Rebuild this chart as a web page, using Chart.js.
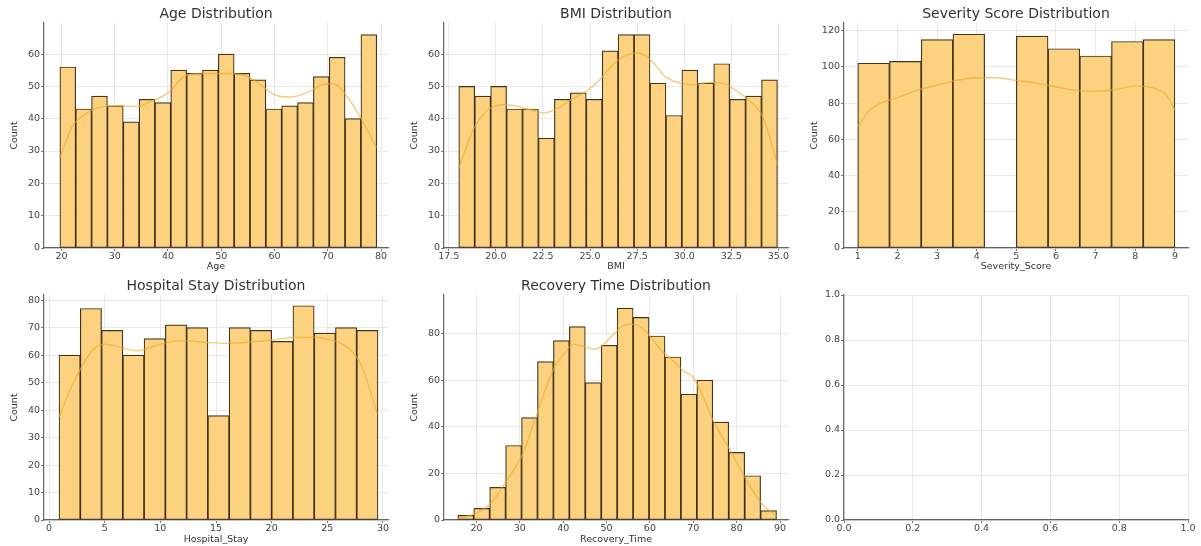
<!DOCTYPE html>
<html>
<head>
<meta charset="utf-8">
<script src="https://cdn.jsdelivr.net/npm/chart.js@4.4.1/dist/chart.umd.min.js"></script>
<style>
  html, body { margin: 0; padding: 0; background: #fff; }
  #fig { position: relative; width: 1201px; height: 546px; }
  #fig canvas { position: absolute; }
</style>
</head>
<body>
<div id="fig">
  <canvas id="age" width="400" height="273" style="left:0;top:0"></canvas>
  <canvas id="bmi" width="400" height="273" style="left:400px;top:0"></canvas>
  <canvas id="sev" width="401" height="273" style="left:800px;top:0"></canvas>
  <canvas id="stay" width="400" height="273" style="left:0;top:273px"></canvas>
  <canvas id="rec" width="400" height="273" style="left:400px;top:273px"></canvas>
  <canvas id="empty" width="401" height="273" style="left:800px;top:273px"></canvas>
</div>
<script>
// ---- histogram counts ----
const ageCounts = [56, 43, 47, 44, 39, 46, 45, 55, 54, 55, 60, 54, 52, 43, 44, 45, 53, 59, 40, 66];
const ageBinStart = 19.7, ageBinWidth = 2.975;
const ageKdeX = [19.7, 22, 25, 28, 31, 34, 37, 40, 43, 46, 50, 54, 57, 60, 63, 66, 69, 71, 74, 76, 79.2];
const ageKdeY = [28, 37.5, 42, 43.8, 44, 43.8, 45.5, 48, 53, 54, 54, 53.6, 51, 47.4, 46.7, 48, 50.5, 50.8, 46, 40.7, 31];

const bmiCounts = [50, 47, 50, 43, 43, 34, 46, 48, 46, 61, 66, 66, 51, 41, 55, 51, 57, 46, 47, 52];
const bmiBinStart = 18.03, bmiBinWidth = 0.846;
const bmiKdeX = [18.03, 18.8, 19.5, 20.3, 21, 21.8, 22.6, 23.3, 24, 24.8, 25.5, 26.2, 27, 27.6, 28.3, 29, 29.8, 30.5, 31.3, 32, 32.8, 33.5, 34.2, 34.95];
const bmiKdeY = [24.7, 36.6, 42.3, 44.3, 44, 42.8, 41.8, 43.3, 45.9, 48.5, 52, 56.7, 59.8, 60.3, 57.7, 53, 51, 50.5, 51.2, 51, 48.5, 45.4, 40.2, 25.8];

const sevCounts = [102, 103, 115, 118, 0, 117, 110, 106, 114, 115];
const sevBinStart = 1, sevBinWidth = 0.8;
const sevKdeX = [1, 1.25, 1.5, 2, 2.5, 3, 3.5, 4, 4.5, 5, 5.5, 6, 6.5, 7, 7.5, 8, 8.5, 8.8, 9];
const sevKdeY = [67, 75, 79, 83, 87, 90, 92.5, 94, 94, 92.5, 91, 89, 87, 86.5, 87.5, 89.5, 88, 84, 76];

const stayCounts = [60, 77, 69, 60, 66, 71, 70, 38, 70, 69, 65, 78, 68, 70, 69];
const stayBinStart = 0.9, stayBinWidth = 1.91;
const stayKdeX = [0.9, 2, 3, 4, 5, 6, 7, 8, 9, 10, 12, 14, 16, 18, 20, 22, 24, 25, 26, 27, 28, 29.5];
const stayKdeY = [37.5, 48.3, 56.2, 62.2, 64, 63.4, 62.2, 61.6, 62.6, 64, 65.3, 64.7, 64.3, 64.7, 65.5, 66.5, 66.5, 65.9, 64.7, 62.2, 56.8, 38.7];

const recCounts = [2, 5, 14, 32, 44, 68, 77, 83, 59, 75, 91, 87, 79, 70, 54, 60, 42, 29, 19, 4];
const recBinStart = 15.7, recBinWidth = 3.675;
const recKdeX = [15.7, 20, 23.2, 27, 30.7, 34.4, 36.3, 38, 40.1, 42.4, 45.1, 47, 48.9, 51.6, 54.7, 56.6, 59.3, 62.4, 65.4, 67.7, 70, 72, 74.6, 78.5, 82.3, 85.8, 89.2];
const recKdeY = [0.7, 3, 7, 17, 28.5, 48, 58, 65.5, 71, 75.4, 74.3, 73.3, 74.7, 79.7, 84, 84, 80.4, 73.3, 68.3, 64, 61.2, 54, 42.7, 30, 17, 7, 1.7];

// ---- tick labels ----
const ageTicks = [20, 30, 40, 50, 60, 70, 80];
const bmiTicks = [17.5, 20, 22.5, 25, 27.5, 30, 32.5, 35];
const sevTicks = [1, 2, 3, 4, 5, 6, 7, 8, 9];
const stayTicks = [0, 5, 10, 15, 20, 25, 30];
const recTicks = [20, 30, 40, 50, 60, 70, 80, 90];
const count60Ticks = [0, 10, 20, 30, 40, 50, 60];
const count120Ticks = [0, 20, 40, 60, 80, 100, 120];
const count80Ticks = [0, 10, 20, 30, 40, 50, 60, 70, 80];
const count80by20Ticks = [0, 20, 40, 60, 80];
const unitTicks = [0, 0.2, 0.4, 0.6, 0.8, 1.0];

const FONT = 'DejaVu Sans';
const BAR_FILL = '#fcd17f';
const BAR_EDGE = 'rgba(45,32,5,0.9)';
const KDE_COLOR = 'rgba(235,170,40,0.6)';

function xScale(min, max, ticks, label, digits, h) {
  return {
    type: 'linear', min: min, max: max, offset: false,
    afterBuildTicks: s => { s.ticks = ticks.map(v => ({ value: v })); },
    afterFit: s => { s.height = h; },
    grid: { color: '#e8e8e8', offset: false, tickLength: 3, tickColor: '#777' },
    border: { color: '#666', width: 1.2 },
    ticks: {
      font: { family: FONT, size: 9.5 }, color: '#444', padding: 0,
      maxRotation: 0, autoSkip: false, callback: v => Number(v).toFixed(digits)
    },
    title: {
      display: !!label, text: label, color: '#333',
      font: { family: FONT, size: 9.5 }, padding: { top: 0, bottom: 0.6 }
    }
  };
}

function yScale(min, max, ticks, label, digits) {
  return {
    type: 'linear', min: min, max: max,
    afterBuildTicks: s => { s.ticks = ticks.map(v => ({ value: v })); },
    afterFit: s => { s.width = 44; },
    grid: { color: '#e8e8e8', tickLength: 3, tickColor: '#777' },
    border: { color: '#666', width: 1.2 },
    ticks: {
      font: { family: FONT, size: 9.5 }, color: '#444', padding: 1,
      autoSkip: false, callback: v => Number(v).toFixed(digits)
    },
    title: {
      display: !!label, text: label, color: '#333',
      font: { family: FONT, size: 9.5 }, padding: { top: 9.3, bottom: 0 }
    }
  };
}

function histPanel(id, p) {
  const bars = p.counts.map((c, i) => ({ x: p.binStart + (i + 0.5) * p.binWidth, y: c }));
  const kde = p.kdeX.map((x, i) => ({ x: x, y: p.kdeY[i] }));
  const canvas = document.getElementById(id);
  return new Chart(canvas, {
    type: 'bar',
    data: {
      datasets: [
        {
          type: 'line', data: kde, borderColor: KDE_COLOR, borderWidth: 1.4,
          pointRadius: 0, cubicInterpolationMode: 'monotone', fill: false, order: 0
        },
        {
          type: 'bar', data: bars, backgroundColor: BAR_FILL, borderColor: BAR_EDGE,
          borderWidth: 1.2, borderSkipped: false, barPercentage: 1, categoryPercentage: 1, order: 1
        }
      ]
    },
    options: {
      responsive: false, animation: false,
      layout: { padding: { left: 0, right: canvas.width - 388, top: 0, bottom: 0 } },
      plugins: {
        legend: { display: false },
        tooltip: { enabled: false },
        title: {
          display: true, text: p.title, fullSize: false, color: '#333',
          font: { family: FONT, size: 14, weight: 'normal' },
          padding: { top: p.row === 1 ? 5.6 : 4.9, bottom: p.row === 1 ? 0.6 : 0.3 }
        }
      },
      scales: {
        x: xScale(p.xMin, p.xMax, p.xTicks, p.xLabel, p.xDigits, p.row === 1 ? 25 : 26),
        y: yScale(0, p.yMax, p.yTicks, 'Count', 0)
      }
    }
  });
}

histPanel('age', {
  row: 1, title: 'Age Distribution', counts: ageCounts, binStart: ageBinStart, binWidth: ageBinWidth,
  kdeX: ageKdeX, kdeY: ageKdeY, xMin: 16.72, xMax: 81.31, xTicks: ageTicks, xLabel: 'Age', xDigits: 0,
  yMax: 69.6, yTicks: count60Ticks
});
histPanel('bmi', {
  row: 1, title: 'BMI Distribution', counts: bmiCounts, binStart: bmiBinStart, binWidth: bmiBinWidth,
  kdeX: bmiKdeX, kdeY: bmiKdeY, xMin: 17.245, xMax: 35.51, xTicks: bmiTicks, xLabel: 'BMI', xDigits: 1,
  yMax: 69.6, yTicks: count60Ticks
});
histPanel('sev', {
  row: 1, title: 'Severity Score Distribution', counts: sevCounts, binStart: sevBinStart, binWidth: sevBinWidth,
  kdeX: sevKdeX, kdeY: sevKdeY, xMin: 0.652, xMax: 9.33, xTicks: sevTicks, xLabel: 'Severity_Score', xDigits: 0,
  yMax: 124.2, yTicks: count120Ticks
});
histPanel('stay', {
  row: 2, title: 'Hospital Stay Distribution', counts: stayCounts, binStart: stayBinStart, binWidth: stayBinWidth,
  kdeX: stayKdeX, kdeY: stayKdeY, xMin: -0.45, xMax: 30.45, xTicks: stayTicks, xLabel: 'Hospital_Stay', xDigits: 0,
  yMax: 81.9, yTicks: count80Ticks
});
histPanel('rec', {
  row: 2, title: 'Recovery Time Distribution', counts: recCounts, binStart: recBinStart, binWidth: recBinWidth,
  kdeX: recKdeX, kdeY: recKdeY, xMin: 12.52, xMax: 91.84, xTicks: recTicks, xLabel: 'Recovery_Time', xDigits: 0,
  yMax: 96.6, yTicks: count80by20Ticks
});

// empty sixth subplot
const emptyCanvas = document.getElementById('empty');
new Chart(emptyCanvas, {
  type: 'scatter',
  data: { datasets: [] },
  options: {
    responsive: false, animation: false,
    layout: { padding: { left: 0, right: emptyCanvas.width - 388, top: 22, bottom: 0 } },
    plugins: { legend: { display: false }, tooltip: { enabled: false } },
    scales: {
      x: xScale(0, 1, unitTicks, '', 1, 26),
      y: yScale(0, 1, unitTicks, '', 1)
    }
  }
});
</script>
</body>
</html>
